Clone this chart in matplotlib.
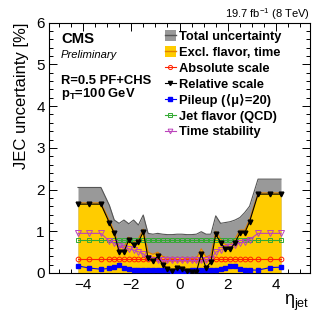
import matplotlib
matplotlib.use("Agg")
import matplotlib.pyplot as plt
from matplotlib.lines import Line2D
from matplotlib.patches import Patch
from matplotlib.ticker import MultipleLocator

plt.rcParams['font.family'] = ['Liberation Sans', 'DejaVu Sans']
plt.rcParams['mathtext.fontset'] = 'custom'
plt.rcParams['mathtext.rm'] = 'Liberation Sans'
plt.rcParams['mathtext.it'] = 'Liberation Sans:italic'
plt.rcParams['mathtext.bf'] = 'Liberation Sans:bold'

eta = [-4.2, -3.75, -3.25, -2.9, -2.7, -2.5, -2.3, -2.1, -1.9, -1.7, -1.5, -1.3,
       -1.1, -0.9, -0.7, -0.5, -0.3, -0.1, 0.1, 0.3, 0.5, 0.7, 0.9, 1.1,
       1.3, 1.5, 1.7, 1.9, 2.1, 2.3, 2.5, 2.7, 2.9, 3.25, 3.75, 4.2]

total = [2.05, 2.05, 2.05, 1.62, 1.27, 1.19, 1.27, 1.18, 1.27, 1.15, 1.39, 0.95,
         0.93, 0.95, 0.93, 0.92, 0.92, 0.93, 0.93, 0.92, 0.92, 0.93, 0.99, 0.93,
         0.93, 1.37, 1.19, 1.21, 1.23, 1.27, 1.33, 1.45, 1.60, 2.25, 2.25, 2.25]

excl = [1.68, 1.68, 1.68, 1.25, 1.00, 0.62, 0.62, 0.86, 0.74, 0.82, 1.05, 0.50,
        0.45, 0.50, 0.40, 0.36, 0.35, 0.37, 0.37, 0.35, 0.35, 0.35, 0.58, 0.38,
        0.44, 1.00, 0.82, 0.68, 0.68, 0.82, 1.03, 1.03, 1.28, 1.92, 1.92, 1.92]

absolute = [0.34, 0.34, 0.34, 0.34, 0.34, 0.34, 0.34, 0.34, 0.34, 0.34, 0.34, 0.34,
            0.34, 0.34, 0.34, 0.34, 0.34, 0.34, 0.34, 0.34, 0.34, 0.34, 0.34, 0.34,
            0.34, 0.34, 0.34, 0.34, 0.34, 0.34, 0.34, 0.34, 0.34, 0.34, 0.34, 0.34]

relative = [1.65, 1.65, 1.65, 1.20, 0.95, 0.51, 0.51, 0.79, 0.66, 0.74, 0.99, 0.35,
            0.28, 0.40, 0.20, 0.10, 0.05, 0.12, 0.10, 0.04, 0.02, 0.03, 0.45, 0.12,
            0.27, 0.93, 0.73, 0.57, 0.57, 0.73, 0.96, 0.96, 1.23, 1.89, 1.89, 1.89]

pileup = [0.17, 0.12, 0.09, 0.11, 0.15, 0.18, 0.13, 0.09, 0.08, 0.08, 0.07, 0.07,
          0.07, 0.06, 0.06, 0.06, 0.05, 0.05, 0.05, 0.05, 0.06, 0.06, 0.06, 0.07,
          0.07, 0.07, 0.09, 0.12, 0.16, 0.17, 0.10, 0.08, 0.07, 0.07, 0.13, 0.14]

flavor = [0.78, 0.78, 0.78, 0.78, 0.78, 0.78, 0.78, 0.78, 0.78, 0.78, 0.78, 0.78,
          0.78, 0.78, 0.78, 0.78, 0.78, 0.78, 0.78, 0.78, 0.78, 0.78, 0.78, 0.78,
          0.78, 0.78, 0.78, 0.78, 0.78, 0.78, 0.78, 0.78, 0.78, 0.78, 0.78, 0.78]

timestab = [0.95, 0.95, 0.95, 0.76, 0.72, 0.64, 0.60, 0.58, 0.55, 0.51, 0.46, 0.36,
            0.31, 0.30, 0.30, 0.30, 0.30, 0.30, 0.30, 0.30, 0.30, 0.30, 0.30, 0.31,
            0.33, 0.50, 0.55, 0.60, 0.63, 0.68, 0.72, 0.74, 0.80, 0.95, 0.95, 0.95]

labels = ["Total uncertainty", "Excl. flavor, time", "Absolute scale",
          "Relative scale", "Pileup (\u27e8\u03bc\u27e9=20)", "Jet flavor (QCD)",
          "Time stability"]

W, H = 327, 314
fig = plt.figure(figsize=(W / 100, H / 100), dpi=100)
ax = fig.add_axes([49 / W, 1 - 273 / H, (310 - 49) / W, (273 - 22.7) / H])

ax.fill_between(eta, 0, total, color='#999999', lw=0, zorder=1)
ax.plot(eta, total, color='#555555', lw=0.8, zorder=1.5)
ax.fill_between(eta, 0, excl, color='#FFCC00', lw=0, zorder=2)
ax.plot(eta, excl, color='#E08000', lw=0.8, zorder=2.5)

ms = 3.4
ax.plot(eta, absolute, color='#FF2200', lw=0.8, marker='o', mfc='none', mec='#FF2200',
        ms=ms, mew=0.7, zorder=3)
ax.plot(eta, flavor, color='#33AA33', lw=0.8, marker='s', mfc='none', mec='#33AA33',
        ms=ms, mew=0.7, zorder=3)
ax.plot(eta, timestab, color='#BB44BB', lw=0.8, marker='v', mfc='none', mec='#BB44BB',
        ms=ms + 0.6, mew=0.7, zorder=3)
ax.plot(eta, pileup, color='#0000FF', lw=0.8, marker='s', mfc='#0000FF', mec='#0000FF',
        ms=ms, zorder=4)
ax.plot(eta, relative, color='black', lw=0.8, marker='v', mfc='black', mec='black',
        ms=ms, zorder=5)

ax.set_xlim(-5.4, 5.4)
ax.set_ylim(0, 6)
ax.xaxis.set_major_locator(MultipleLocator(2))
ax.xaxis.set_minor_locator(MultipleLocator(0.5))
ax.yaxis.set_major_locator(MultipleLocator(1))
ax.yaxis.set_minor_locator(MultipleLocator(0.2))
ax.tick_params(which='both', direction='in', top=True, right=True, width=0.7,
               labelsize=11)
ax.tick_params(which='major', length=6)
ax.tick_params(which='minor', length=3)
ax.tick_params(axis='y', pad=3)
ax.tick_params(axis='x', pad=3.5)
for s in ax.spines.values():
    s.set_linewidth(0.8)

ax.set_ylabel("JEC uncertainty [%]", fontsize=12, loc='top', labelpad=5)
fig.text(310 / W, 1 - 305 / H, r"$\mathrm{\eta}_{\mathrm{jet}}$", fontsize=13,
         ha='right', va='baseline')

fig.text(310 / W, 1 - 18 / H, r"19.7 fb$^{-1}$ (8 TeV)", fontsize=8,
         ha='right', va='baseline')
fig.text(61 / W, 1 - 43 / H, "CMS", fontsize=10.7, fontweight='bold', va='baseline')
fig.text(61 / W, 1 - 57.5 / H, "Preliminary", fontsize=8.1, style='italic', va='baseline')
fig.text(61 / W, 1 - 84 / H, "R=0.5 PF+CHS", fontsize=9.4, fontweight='bold', va='baseline')
fig.text(61 / W, 1 - 97 / H, r"p$_{\mathbf{T}}$=100 GeV", fontsize=9.4, fontweight='bold',
         va='baseline')

hl = 0.8
handles = [
    (Patch(facecolor='#999999', edgecolor='none'), Line2D([], [], color='#555555', lw=1)),
    (Patch(facecolor='#FFCC00', edgecolor='none'), Line2D([], [], color='#E08000', lw=1)),
    Line2D([], [], color='#FF2200', lw=hl, marker='o', mfc='none', mec='#FF2200', ms=3, mew=0.7),
    Line2D([], [], color='black', lw=hl, marker='v', mfc='black', ms=3),
    Line2D([], [], color='#0000FF', lw=hl, marker='s', mfc='#0000FF', ms=3),
    Line2D([], [], color='#33AA33', lw=hl, marker='s', mfc='none', mec='#33AA33', ms=3, mew=0.7),
    Line2D([], [], color='#BB44BB', lw=hl, marker='v', mfc='none', mec='#BB44BB', ms=3.4, mew=0.7),
]
leg = fig.legend(handles, labels, loc='upper left',
                 bbox_to_anchor=(165 / W, 1 - 30 / H),
                 prop={'weight': 'bold', 'size': 9.3}, frameon=False,
                 borderpad=0, borderaxespad=0, handlelength=0.85,
                 handletextpad=0.25, labelspacing=0.24, handleheight=0.9)

fig.savefig("out.png", dpi=100)
